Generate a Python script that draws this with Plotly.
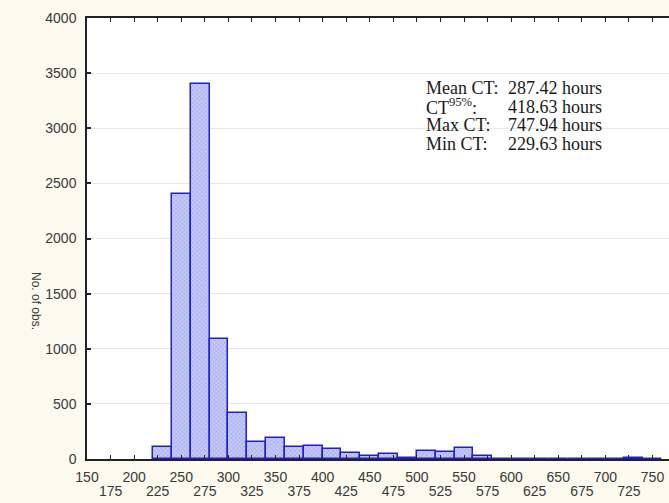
import plotly.graph_objects as go

# ---- data ----
bin_starts = [220, 240, 260, 280, 300, 320, 340, 360, 380, 400, 420, 440, 460, 480,
              500, 520, 540, 560, 580, 600, 620, 640, 660, 680, 700, 720, 740]
counts = [105, 2400, 3400, 1090, 415, 157, 188, 112, 115, 91, 57, 27, 45, 12,
          70, 61, 103, 24, 0, 0, 0, 0, 0, 0, 0, 8, 4]
bin_width = 20
x_tick_row1 = list(range(150, 751, 50))
x_tick_row2 = list(range(175, 776, 50))
y_tick_vals = list(range(0, 4001, 500))
stat_labels = ["Mean CT:", "CT<sup>95%</sup>:", "Max CT:", "Min CT:"]
stat_values = ["287.42 hours", "418.63 hours", "747.94 hours", "229.63 hours"]

W, H = 669, 503
ML, MR, MT, MB = 87, 0, 18, 44
PW, PH = W - ML - MR, H - MT - MB
XR = [150, 767.5]

def px_x(p):
    return (p - ML) / PW

def px_y(p):
    return (H - MB - p) / PH

centers = [s + bin_width / 2 for s in bin_starts]

fig = go.Figure()
fig.add_trace(go.Bar(
    x=centers, y=counts, width=[bin_width] * len(centers),
    marker=dict(
        color="#C6CAF6",
        line=dict(color="#1E1ED2", width=1.5),
        pattern=dict(shape="x", fgcolor="#5A5ADC", size=3, solidity=0.25),
    ),
    hoverinfo="x+y",
))
# carrier for second row of x labels
fig.add_trace(go.Scatter(x=[XR[0]], y=[0], xaxis="x2", mode="markers",
                         marker=dict(opacity=0), hoverinfo="skip", showlegend=False))

tick_font = dict(family="Liberation Sans, Arial", size=14, color="#3a3a3a")

fig.update_layout(
    width=W, height=H,
    margin=dict(l=ML, r=MR, t=MT, b=MB, pad=0),
    paper_bgcolor="#FCF9EF",
    plot_bgcolor="#FFFFFF",
    showlegend=False,
    bargap=0,
    font=dict(family="Liberation Sans, Arial", size=12, color="#333333"),
    xaxis=dict(
        range=XR, tickmode="array", tickvals=x_tick_row1,
        ticks="inside", ticklen=4, tickwidth=1.2, tickcolor="#222222",
        minor=dict(tickmode="array", tickvals=x_tick_row2, ticks="inside",
                   ticklen=4, tickwidth=1.2, tickcolor="#222222", showgrid=False),
        showline=True, linecolor="#222222", linewidth=1.5, mirror="ticks",
        showgrid=False, zeroline=False, ticklabelstandoff=4,
        tickfont=tick_font,
    ),
    xaxis2=dict(
        range=XR, overlaying="x", anchor="y", side="bottom",
        tickmode="array", tickvals=x_tick_row2[:-1], ticktext=[str(v) for v in x_tick_row2[:-1]],
        ticks="", showline=False, showgrid=False, zeroline=False,
        ticklabelstandoff=22, tickfont=tick_font,
    ),
    yaxis=dict(
        range=[0, 4000], tickmode="array", tickvals=y_tick_vals,
        ticks="inside", ticklen=4, tickwidth=1.5, tickcolor="#222222",
        showline=True, linecolor="#222222", linewidth=1.5,
        showgrid=True, gridcolor="#E8E8E8", gridwidth=1, zeroline=False,
        ticklabelstandoff=6, tickfont=tick_font,
    ),
)

fig.add_annotation(
    text="No. of obs.", textangle=90, xref="paper", yref="paper",
    x=px_x(28), y=px_y(301), showarrow=False, borderpad=0,
    font=dict(family="Liberation Sans, Arial", size=12, color="#3a3a3a"),
)

row_y = [87.5, 106.5, 125.5, 144.5]
stat_font = dict(family="Liberation Serif, Times New Roman", size=18, color="#1a1a1a")
for lab, val, ry in zip(stat_labels, stat_values, row_y):
    fig.add_annotation(text=lab, xref="paper", yref="paper", x=px_x(425), y=px_y(ry),
                       xanchor="left", yanchor="middle", showarrow=False, borderpad=0,
                       font=stat_font)
    fig.add_annotation(text=val, xref="paper", yref="paper", x=px_x(507), y=px_y(ry),
                       xanchor="left", yanchor="middle", showarrow=False, borderpad=0,
                       font=stat_font)

fig.write_html("out.html")
